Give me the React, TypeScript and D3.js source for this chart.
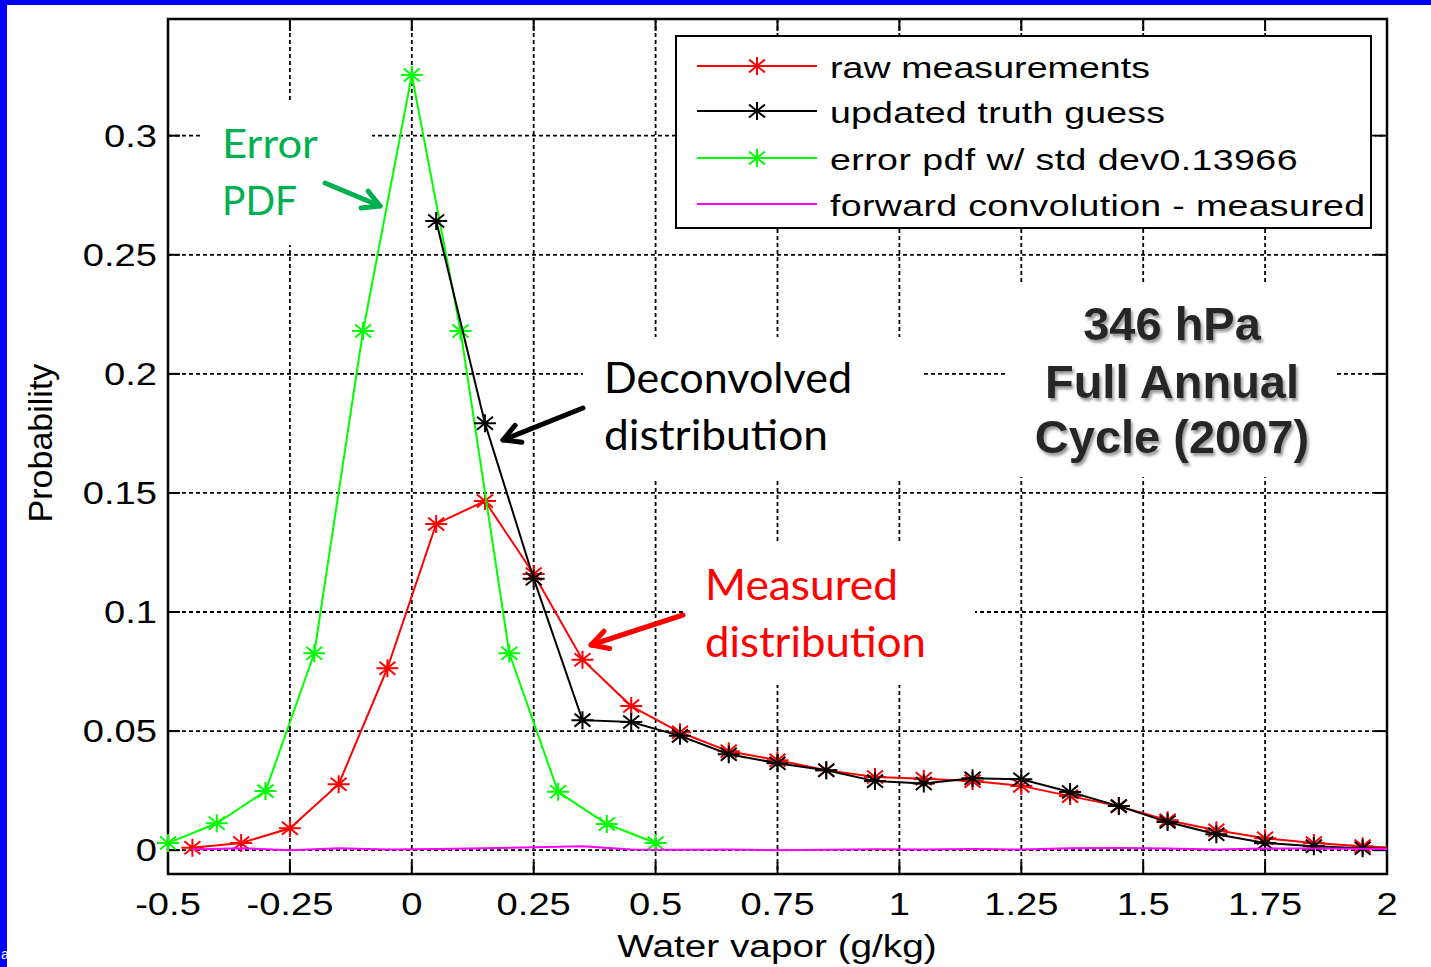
import React from 'react';
import * as d3 from 'd3';

const xTicks = [-0.5, -0.25, 0, 0.25, 0.5, 0.75, 1, 1.25, 1.5, 1.75, 2];
const xTickLabels = ['-0.5', '-0.25', '0', '0.25', '0.5', '0.75', '1', '1.25', '1.5', '1.75', '2'];
const yTicks = [0, 0.05, 0.1, 0.15, 0.2, 0.25, 0.3];
const yTickLabels = ['0', '0.05', '0.1', '0.15', '0.2', '0.25', '0.3'];

// error pdf (green)
const errorX = [-0.5, -0.4, -0.3, -0.2, -0.1, 0, 0.1, 0.2, 0.3, 0.4, 0.5];
const errorPdf = [0.003, 0.0113, 0.0248, 0.0827, 0.218, 0.3255, 0.218, 0.0827, 0.0245, 0.011, 0.003];

// raw measurements (red)
const rawX = [-0.45, -0.35, -0.25, -0.15, -0.05, 0.05, 0.15, 0.25, 0.35, 0.45, 0.55, 0.65, 0.75, 0.85, 0.95, 1.05, 1.15, 1.25, 1.35, 1.45, 1.55, 1.65, 1.75, 1.85, 1.95, 2.05];
const rawMeas = [0.001, 0.003, 0.0092, 0.0277, 0.0764, 0.137, 0.1466, 0.116, 0.08, 0.0605, 0.0495, 0.0415, 0.0378, 0.0336, 0.0307, 0.03, 0.029, 0.027, 0.0227, 0.0185, 0.0126, 0.0084, 0.005, 0.003, 0.0017, 0.0005];

// updated truth guess (black)
const truthX = [0.05, 0.15, 0.25, 0.35, 0.45, 0.55, 0.65, 0.75, 0.85, 0.95, 1.05, 1.15, 1.25, 1.35, 1.45, 1.55, 1.65, 1.75, 1.85, 1.95, 2.05];
const truthGuess = [0.2642, 0.1793, 0.114, 0.0546, 0.0538, 0.048, 0.0403, 0.0365, 0.0336, 0.029, 0.028, 0.0302, 0.0298, 0.0244, 0.0185, 0.0118, 0.0067, 0.003, 0.0017, 0.0008, 0.0004];

// forward convolution - measured (magenta)
const convX = rawX;
const convDiff = [0.0003, 0.0008, 0.0, 0.0008, 0.0003, 0.0005, 0.0008, 0.0012, 0.0017, 0.0003, 0.0002, 0.0003, 0.0, 0.0002, 0.0004, 0.0003, 0.0005, 0.0003, 0.0008, 0.0009, 0.0007, 0.0003, 0.0007, 0.0007, 0.0006, 0.0004];

const legendLabels = ['raw measurements', 'updated truth guess', 'error pdf w/ std dev0.13966', 'forward convolution - measured'];
const legendColors = ['#FF0000', '#000000', '#00FF00', '#FF00FF'];
const legendWidths = [256, 268, 374, 428];

const MFONT = '"Liberation Sans", Arial, Helvetica, sans-serif';
const AFONT = 'Lato, "Open Sans", sans-serif';

const L = 168, R = 1387, T = 19, B = 874;
const xs = d3.scaleLinear().domain([-0.5, 2]).range([L, R]);
const ys = d3.scaleLinear().domain([-0.01, 0.349]).range([B, T]);

const star = (x: number, y: number) => {
  const rx = 11, ry = 9, dx = 8, dy = 6.5;
  return `M${x - rx},${y}H${x + rx}M${x},${y - ry}V${y + ry}M${x - dx},${y - dy}L${x + dx},${y + dy}M${x - dx},${y + dy}L${x + dx},${y - dy}`;
};

const SText = ({ x, y, anchor = 'start', size = 30, children, fill = '#000', len }: any) => (
  <text
    transform={`translate(${x},${y}) scale(1.25,1)`}
    textAnchor={anchor}
    fontSize={size}
    fontFamily={MFONT}
    fill={fill}
    {...(len ? { textLength: len, lengthAdjust: 'spacing' } : {})}
  >
    {children}
  </text>
);

const Arrow = ({ x1, y1, x2, y2, color }: any) => {
  const ang = Math.atan2(y2 - y1, x2 - x1);
  const len = 19, a = 0.5;
  const p1 = [x2 - len * Math.cos(ang - a), y2 - len * Math.sin(ang - a)];
  const p2 = [x2 - len * Math.cos(ang + a), y2 - len * Math.sin(ang + a)];
  return (
    <g stroke={color} strokeWidth={5} fill="none" strokeLinecap="round" strokeLinejoin="round">
      <line x1={x1} y1={y1} x2={x2} y2={y2} />
      <path d={`M${p1[0]},${p1[1]}L${x2},${y2}L${p2[0]},${p2[1]}`} />
    </g>
  );
};

function Series({ xv, yv, color, markers = true }: any) {
  const pts: [number, number][] = xv.map((x: number, i: number) => [x, yv[i]]);
  const line = d3.line<[number, number]>().x(d => xs(d[0])).y(d => ys(d[1]));
  return (
    <g>
      <path d={line(pts) || ''} fill="none" stroke={color} strokeWidth={2} clipPath="url(#plotClip)" />
      {markers && (
        <path
          d={pts.filter(p => p[0] <= 2).map(p => star(xs(p[0]), ys(p[1]))).join('')}
          stroke={color}
          strokeWidth={2}
          fill="none"
        />
      )}
    </g>
  );
}

export default function App() {
  const legendRowY = [66, 111, 158, 204];
  return (
    <svg width={1431} height={967} style={{ position: 'absolute', left: 0, top: 0 }} xmlns="http://www.w3.org/2000/svg">
      <defs>
        <clipPath id="plotClip">
          <rect x={L} y={T} width={R - L} height={B - T} />
        </clipPath>
        <filter id="shadow" x="-20%" y="-20%" width="140%" height="140%">
          <feDropShadow dx="2" dy="3" stdDeviation="1.8" floodColor="#777" floodOpacity="0.75" />
        </filter>
        <filter id="lshadow" x="-200%" y="-5%" width="500%" height="110%">
          <feDropShadow dx="2" dy="2" stdDeviation="1.5" floodColor="#888" floodOpacity="0.7" />
        </filter>
      </defs>
      <rect x={0} y={0} width={1431} height={967} fill="#fff" />
      <rect x={0} y={0} width={1431} height={5} fill="#0000FF" />
      <rect x={0} y={0} width={7} height={967} fill="#0000FF" />
      <text x={1} y={959} fontSize={14} fill="#fff" fontFamily={MFONT}>a</text>

      {/* grid */}
      <g stroke="#000" strokeWidth={1.8} strokeDasharray="4 3">
        {xTicks.filter(t => t > -0.5 && t < 2).map(t => (
          <line key={'gx' + t} x1={xs(t)} x2={xs(t)} y1={T} y2={B} />
        ))}
        {yTicks.map(t => (
          <line key={'gy' + t} x1={L} x2={R} y1={ys(t)} y2={ys(t)} />
        ))}
      </g>

      {/* axes box and ticks */}
      <rect x={L} y={T} width={R - L} height={B - T} fill="none" stroke="#000" strokeWidth={2.5} />
      <g stroke="#000" strokeWidth={2}>
        {xTicks.map(t => (
          <g key={'tx' + t}>
            <line x1={xs(t)} x2={xs(t)} y1={B} y2={B - 12} />
            <line x1={xs(t)} x2={xs(t)} y1={T} y2={T + 12} />
          </g>
        ))}
        {yTicks.map(t => (
          <g key={'ty' + t}>
            <line x1={L} x2={L + 12} y1={ys(t)} y2={ys(t)} />
            <line x1={R} x2={R - 12} y1={ys(t)} y2={ys(t)} />
          </g>
        ))}
      </g>
      {xTicks.map((t, i) => (
        <SText key={'lx' + t} x={xs(t)} y={915} anchor="middle" size={30.5}>{xTickLabels[i]}</SText>
      ))}
      {yTicks.map((t, i) => (
        <SText key={'ly' + t} x={157} y={ys(t) + 11} anchor="end" size={30.5}>{yTickLabels[i]}</SText>
      ))}
      <SText x={777} y={957} anchor="middle" size={31}>Water vapor (g/kg)</SText>
      <text transform="translate(52,443) rotate(-90)" textAnchor="middle" fontSize={34} fontFamily={MFONT}>Probability</text>

      {/* data */}
      <Series xv={rawX} yv={rawMeas} color="#FF0000" />
      <Series xv={errorX} yv={errorPdf} color="#00FF00" />
      <Series xv={truthX} yv={truthGuess} color="#000000" />
      <Series xv={convX} yv={convDiff} color="#FF00FF" markers={false} />

      {/* zero line */}
      <line x1={xs(0) - 1.5} x2={xs(0) - 1.5} y1={30} y2={B} stroke="#000" strokeWidth={4.5} strokeDasharray="15 4 2 4" filter="url(#lshadow)" />

      {/* legend */}
      <rect x={676} y={36} width={695} height={192} fill="#fff" stroke="#000" strokeWidth={2} />
      {legendLabels.map((lab, i) => (
        <g key={lab}>
          <line x1={697} x2={817} y1={legendRowY[i]} y2={legendRowY[i]} stroke={legendColors[i]} strokeWidth={2} />
          {i < 3 && <path d={star(757, legendRowY[i])} stroke={legendColors[i]} strokeWidth={2} fill="none" />}
          <SText x={830} y={legendRowY[i] + 12} size={30} len={legendWidths[i]}>{lab}</SText>
        </g>
      ))}

      {/* annotation boxes */}
      <rect x={200} y={103} width={172} height={142} fill="#fff" />
      <rect x={583} y={337} width={340} height={143} fill="#fff" />
      <rect x={683} y={543} width={292} height={142} fill="#fff" />
      <rect x={1005} y={282} width={332} height={195} fill="#fff" />

      <g fontFamily={AFONT}>
        <text x={222} y={158} fontSize={40} fill="#00B050" textLength={96} lengthAdjust="spacingAndGlyphs">Error</text>
        <text x={222} y={215} fontSize={40} fill="#00B050" textLength={75} lengthAdjust="spacingAndGlyphs">PDF</text>
        <text x={604} y={393} fontSize={43} fill="#000" textLength={248} lengthAdjust="spacingAndGlyphs">Deconvolved</text>
        <text x={604} y={450} fontSize={43} fill="#000" textLength={224} lengthAdjust="spacingAndGlyphs">distribution</text>
        <text x={705} y={600} fontSize={42} fill="#FF0000" textLength={193} lengthAdjust="spacingAndGlyphs">Measured</text>
        <text x={705} y={657} fontSize={42} fill="#FF0000" textLength={221} lengthAdjust="spacingAndGlyphs">distribution</text>
      </g>

      <Arrow x1={325} y1={183} x2={380} y2={206} color="#00B050" />
      <Arrow x1={583} y1={408} x2={503} y2={440} color="#000" />
      <Arrow x1={683} y1={615} x2={591} y2={645} color="#FF0000" />

      <g fontFamily={MFONT} fontWeight="bold" fontSize={47} fill="#262626" textAnchor="middle" filter="url(#shadow)">
        <text x={1172} y={340}>346 hPa</text>
        <text x={1172} y={398}>Full Annual</text>
        <text x={1172} y={453}>Cycle (2007)</text>
      </g>
    </svg>
  );
}
